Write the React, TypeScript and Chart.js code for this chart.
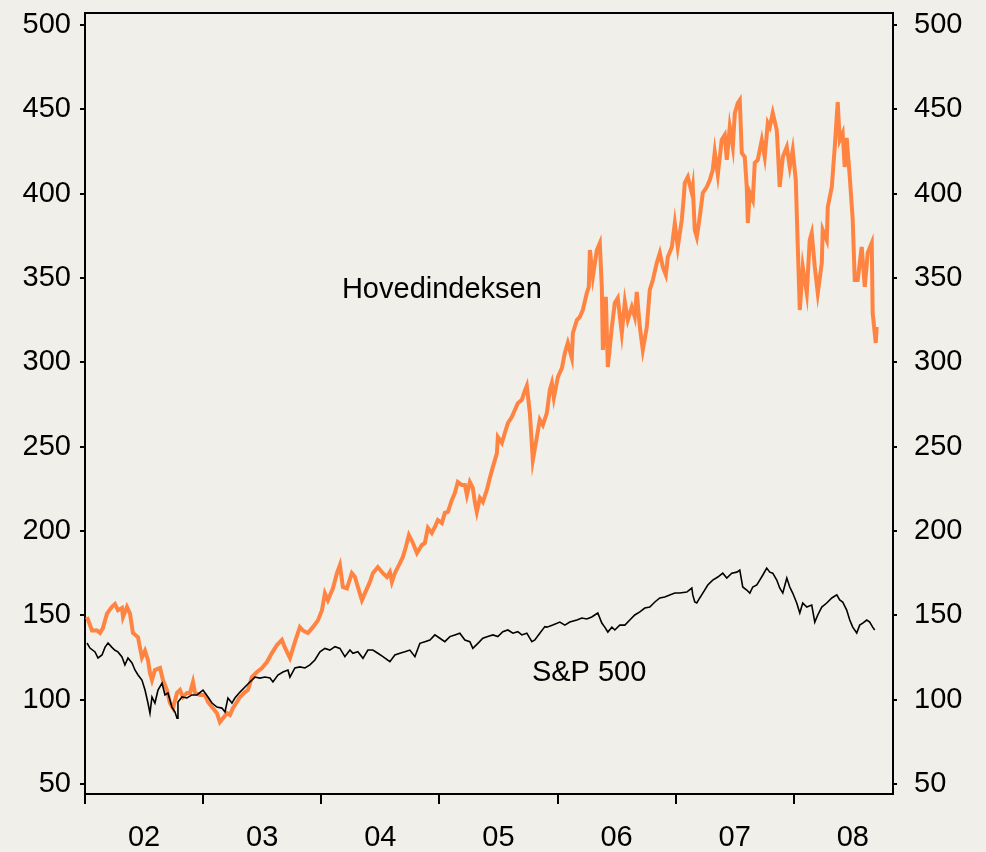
import React, { useEffect, useRef } from "react";
import { Chart, registerables } from "chart.js";

Chart.register(...registerables);

// Hovedindeksen (Oslo Børs main index), decimal years and index values
const hovedYears = [
  2002.017, 2002.059, 2002.102, 2002.127, 2002.152, 2002.186, 2002.228, 2002.254, 2002.279, 2002.313,
  2002.322, 2002.355, 2002.381, 2002.406, 2002.449, 2002.465, 2002.482, 2002.508, 2002.533, 2002.55,
  2002.567, 2002.592, 2002.635, 2002.66, 2002.694, 2002.719, 2002.745, 2002.779, 2002.804, 2002.829,
  2002.863, 2002.889, 2002.914, 2002.931, 2002.973, 2003.015, 2003.041, 2003.075, 2003.117, 2003.142,
  2003.168, 2003.202, 2003.227, 2003.252, 2003.286, 2003.312, 2003.354, 2003.379, 2003.413, 2003.456,
  2003.498, 2003.54, 2003.582, 2003.625, 2003.667, 2003.692, 2003.735, 2003.777, 2003.819, 2003.845,
  2003.887, 2003.929, 2003.972, 2004.006, 2004.031, 2004.056, 2004.099, 2004.133, 2004.158, 2004.183,
  2004.217, 2004.259, 2004.285, 2004.31, 2004.344, 2004.369, 2004.412, 2004.437, 2004.479, 2004.522,
  2004.556, 2004.581, 2004.598, 2004.623, 2004.666, 2004.691, 2004.716, 2004.742, 2004.776, 2004.81,
  2004.852, 2004.877, 2004.903, 2004.936, 2004.962, 2004.987, 2005.021, 2005.046, 2005.072, 2005.106,
  2005.131, 2005.156, 2005.19, 2005.216, 2005.233, 2005.258, 2005.283, 2005.3, 2005.317, 2005.343,
  2005.368, 2005.402, 2005.427, 2005.453, 2005.487, 2005.495, 2005.529, 2005.554, 2005.58, 2005.613,
  2005.639, 2005.664, 2005.698, 2005.723, 2005.74, 2005.766, 2005.791, 2005.825, 2005.85, 2005.876,
  2005.91, 2005.935, 2005.952, 2005.969, 2006.003, 2006.037, 2006.062, 2006.087, 2006.121, 2006.13,
  2006.164, 2006.189, 2006.214, 2006.248, 2006.265, 2006.274, 2006.299, 2006.333, 2006.358, 2006.375,
  2006.384, 2006.409, 2006.426, 2006.46, 2006.485, 2006.51, 2006.544, 2006.57, 2006.595, 2006.629,
  2006.654, 2006.671, 2006.697, 2006.722, 2006.756, 2006.781, 2006.807, 2006.84, 2006.866, 2006.891,
  2006.917, 2006.934, 2006.968, 2006.993, 2007.018, 2007.052, 2007.069, 2007.077, 2007.103, 2007.137,
  2007.145, 2007.162, 2007.179, 2007.204, 2007.23, 2007.264, 2007.289, 2007.314, 2007.331, 2007.357,
  2007.39, 2007.416, 2007.433, 2007.458, 2007.484, 2007.501, 2007.526, 2007.543, 2007.56, 2007.585,
  2007.602, 2007.611, 2007.628, 2007.653, 2007.67, 2007.695, 2007.729, 2007.754, 2007.78, 2007.797,
  2007.822, 2007.856, 2007.864, 2007.881, 2007.907, 2007.941, 2007.966, 2007.991, 2008.017, 2008.034,
  2008.051, 2008.076, 2008.11, 2008.135, 2008.152, 2008.178, 2008.203, 2008.237, 2008.245, 2008.279,
  2008.288, 2008.322, 2008.347, 2008.372, 2008.389, 2008.414, 2008.431, 2008.448, 2008.474, 2008.499,
  2008.516, 2008.541, 2008.575, 2008.601, 2008.626, 2008.66, 2008.668, 2008.694, 2008.702,
];
const hovedValues = [
  149, 141, 141, 139.5, 142.5, 151, 155, 156.7, 153, 154.4,
  149, 155, 151, 139.5, 137, 131, 125, 129, 123.5, 115.8,
  111.6, 117.6, 118.8, 111.6, 105.7, 98, 95, 104, 105.7, 101.6,
  104, 104, 110.5, 104, 102.8, 102.8, 98.6, 95.6, 92, 86.7,
  89, 92, 91, 95, 98.6, 101.6, 104.5, 105.7, 113.4, 116.4,
  118.8, 122.3, 127.6, 132.4, 135.4, 131, 124.7, 134.2, 143, 141,
  139.5, 143, 147, 153, 163, 159, 166, 175, 179.8, 166.8,
  166, 175, 172.7, 166.8, 159, 163, 169.8, 175, 178.6, 175,
  172.7, 175.6, 169.8, 175, 181, 184.6, 190.5, 197.6, 192.9, 186.9,
  191.7, 192.9, 201.8, 198.8, 202.4, 206.5, 204.7, 210.7, 211.3, 218.4,
  222.5, 229, 227.3, 227.3, 221.3, 229, 225.5, 217.2, 211.3, 219.6,
  217.2, 224.3, 231.4, 238, 246.2, 255.7, 252.2, 258.1, 264, 267.6,
  271.7, 275.8, 277.7, 283, 286, 270, 242, 255.7, 266, 262.8,
  270, 283.6, 287.7, 279, 291.3, 296.6, 305.5, 311.5, 302.6, 317.4,
  325.1, 326.9, 331, 341.1, 344.7, 366.6, 350.6, 366.6, 370.7, 344.7,
  307.3, 338.9, 297.2, 320.9, 335.2, 338.1, 317.4, 335.8, 325.1, 332.8,
  326.9, 341.7, 320.9, 307.3, 320.9, 342.9, 348.8, 358.9, 364.8, 356.5,
  351.8, 362.5, 368.4, 382.6, 368.4, 384.4, 398, 406.3, 409.9, 400.4,
  404, 378.5, 374.3, 386.2, 400.4, 404, 408.1, 414, 424.7, 411.2,
  431.8, 434.8, 420, 439.5, 427.7, 447.8, 453.7, 455.5, 424.1, 421.7,
  404, 382.6, 400.4, 396.2, 418.2, 420, 431.8, 421.7, 441.9, 439.5,
  447.8, 437.7, 427.7, 404, 421.7, 427.7, 415.8, 425.9, 408.1, 368.4,
  331, 356.5, 341.1, 372.5, 376.7, 356.5, 341.1, 358.9, 378.5, 372.5,
  392.1, 404, 427.7, 454.3, 431.8, 436, 415.8, 433, 409.9, 384.4,
  348.8, 348.8, 368.4, 344.7, 364.8, 370.7, 329.2, 311.5, 321,
];

// S&P 500, rebased
const spYears = [
  2002.017, 2002.042, 2002.085, 2002.11, 2002.144, 2002.169, 2002.195, 2002.228, 2002.254, 2002.279,
  2002.313, 2002.338, 2002.364, 2002.398, 2002.423, 2002.449, 2002.482, 2002.508, 2002.533, 2002.55,
  2002.567, 2002.592, 2002.618, 2002.652, 2002.677, 2002.702, 2002.736, 2002.762, 2002.779, 2002.787,
  2002.821, 2002.863, 2002.905, 2002.948, 2002.999, 2003.041, 2003.075, 2003.117, 2003.159, 2003.185,
  2003.21, 2003.244, 2003.269, 2003.312, 2003.354, 2003.396, 2003.439, 2003.481, 2003.523, 2003.566,
  2003.591, 2003.633, 2003.676, 2003.718, 2003.735, 2003.777, 2003.819, 2003.862, 2003.904, 2003.946,
  2003.989, 2004.031, 2004.073, 2004.116, 2004.158, 2004.2, 2004.243, 2004.268, 2004.31, 2004.353,
  2004.395, 2004.437, 2004.479, 2004.522, 2004.581, 2004.623, 2004.666, 2004.708, 2004.75, 2004.793,
  2004.835, 2004.877, 2004.92, 2004.962, 2005.004, 2005.046, 2005.089, 2005.131, 2005.173, 2005.216,
  2005.258, 2005.283, 2005.326, 2005.368, 2005.41, 2005.453, 2005.495, 2005.537, 2005.58, 2005.622,
  2005.664, 2005.698, 2005.74, 2005.783, 2005.808, 2005.85, 2005.893, 2005.91, 2005.96, 2006.02,
  2006.062, 2006.104, 2006.164, 2006.206, 2006.248, 2006.29, 2006.341, 2006.375, 2006.4, 2006.426,
  2006.46, 2006.485, 2006.527, 2006.57, 2006.612, 2006.654, 2006.697, 2006.739, 2006.781, 2006.824,
  2006.866, 2006.908, 2006.95, 2006.993, 2007.035, 2007.094, 2007.137, 2007.145, 2007.162, 2007.179,
  2007.204, 2007.23, 2007.272, 2007.314, 2007.357, 2007.399, 2007.433, 2007.475, 2007.518, 2007.543,
  2007.568, 2007.602, 2007.628, 2007.653, 2007.687, 2007.712, 2007.738, 2007.771, 2007.797, 2007.822,
  2007.856, 2007.881, 2007.907, 2007.941, 2007.966, 2007.991, 2008.025, 2008.051, 2008.076, 2008.11,
  2008.152, 2008.178, 2008.203, 2008.237, 2008.279, 2008.322, 2008.364, 2008.389, 2008.414, 2008.448,
  2008.474, 2008.499, 2008.533, 2008.558, 2008.584, 2008.618, 2008.643, 2008.668, 2008.685,
];
const spValues = [
  133.6, 130.6, 128.3, 124.7, 126.5, 131, 133.6, 131, 129.3, 128.3,
  125.3, 120.6, 124.7, 121.8, 117.6, 114.6, 111.6, 105.7, 98, 92,
  101.6, 98, 105.7, 109.8, 102.8, 104, 95.6, 92.7, 89, 98.6,
  101.6, 101, 102.8, 102.8, 105.7, 101.6, 98, 95.6, 95, 92.7,
  101, 98, 101, 104.5, 107.5, 110.5, 113.4, 112.8, 113.4, 112.8,
  110.5, 114.6, 116.4, 117.6, 113.4, 118.8, 119.4, 118.8, 120.6, 123.5,
  128.3, 130.4, 129.4, 131.4, 130.4, 125.5, 129.4, 127.5, 128.4, 124.5,
  129.4, 129.4, 127.5, 125.5, 122.5, 126.5, 127.5, 128.4, 129.4, 125.5,
  133.4, 134.4, 135.4, 138.4, 136.4, 134.4, 137.4, 138.4, 139.4, 135.4,
  134.4, 130.4, 133.4, 136.4, 137.4, 138.4, 137.4, 140.3, 141.3, 139.4,
  140.3, 138.4, 139.4, 134.4, 135.4, 139.4, 143.3, 143, 144.2, 146,
  144.2, 146, 147.2, 148.4, 147.8, 149, 151.4, 145.4, 143, 140.1,
  143, 141.3, 144.2, 144.2, 147.2, 150.2, 152, 154.3, 154.9, 157.9,
  160.3, 160.9, 162.1, 163.2, 163.2, 163.8, 166.2, 162.1, 157.9, 157.3,
  160.3, 163.2, 168, 170.9, 172.7, 175, 172.1, 175, 175.6, 176.8,
  166.8, 165, 163.2, 166.8, 168, 170.9, 173.9, 178, 175.6, 175,
  170.9, 166.2, 163.2, 172.1, 166.8, 163.2, 157.3, 151.4, 157.3, 154.9,
  156.1, 146, 150.2, 154.9, 157.3, 160.3, 162.1, 159.1, 157.9, 153.1,
  147.2, 143, 139.5, 144.2, 145.4, 147.2, 146, 143, 141.3,
];

const yTickValues = [50, 100, 150, 200, 250, 300, 350, 400, 450, 500];
const yearTicks = [2002, 2003, 2004, 2005, 2006, 2007, 2008];
const yearLabels = ["02", "03", "04", "05", "06", "07", "08"];

const seriesLabels = [
  { text: "Hovedindeksen", x: 2004.175, y: 338.1 },
  { text: "S&P 500", x: 2005.783, y: 111.1 },
];

const BG = "#F0EFE9";
const ORANGE = "#FF8442";
const FONT = "'Liberation Sans', Arial, Helvetica, sans-serif";

export default function App() {
  const ref = useRef<HTMLCanvasElement | null>(null);

  useEffect(() => {
    document.body.style.margin = "0";
    document.body.style.background = BG;
    const canvas = ref.current;
    if (!canvas) return;

    const hovedData = hovedYears.map((x, i) => ({ x, y: hovedValues[i] }));
    const spData = spYears.map((x, i) => ({ x, y: spValues[i] }));

    const xTicks: number[] = [];
    yearTicks.forEach((y) => {
      xTicks.push(y);
      xTicks.push(y + 0.5);
    });

    const bgPlugin = {
      id: "bg",
      beforeDraw(chart: any) {
        const c = chart.ctx;
        c.save();
        c.fillStyle = BG;
        c.fillRect(0, 0, chart.width, chart.height);
        c.restore();
      },
      afterDraw(chart: any) {
        const c = chart.ctx;
        const a = chart.chartArea;
        c.save();
        c.strokeStyle = "#000";
        c.lineWidth = 2;
        c.beginPath();
        c.moveTo(a.left - 1, a.top);
        c.lineTo(a.right + 1, a.top);
        c.stroke();
        c.fillStyle = "#000";
        c.font = `29px ${FONT}`;
        c.textBaseline = "alphabetic";
        c.textAlign = "left";
        const xs = chart.scales.x;
        const ys = chart.scales.y;
        seriesLabels.forEach((l) => {
          c.fillText(l.text, xs.getPixelForValue(l.x), ys.getPixelForValue(l.y));
        });
        c.restore();
      },
    };

    const yCommon = {
      min: 44.07,
      max: 507.1,
      afterBuildTicks: (axis: any) => {
        axis.ticks = yTickValues.map((v) => ({ value: v }));
      },
      border: { display: true, color: "#000", width: 2 },
    };

    const chart = new Chart(canvas, {
      type: "line",
      data: {
        datasets: [
          {
            label: "S&P 500",
            data: spData,
            borderColor: "#000",
            borderWidth: 1.6,
            pointRadius: 0,
            tension: 0,
            yAxisID: "y",
          },
          {
            label: "Hovedindeksen",
            data: hovedData,
            borderColor: ORANGE,
            borderWidth: 4,
            pointRadius: 0,
            tension: 0,
            yAxisID: "y",
          },
        ],
      },
      plugins: [bgPlugin],
      options: {
        responsive: false,
        animation: false,
        devicePixelRatio: 1,
        layout: { padding: { top: 13, left: 0, right: 0, bottom: 0 } },
        plugins: {
          legend: { display: false },
          tooltip: { enabled: false },
          title: { display: false },
        },
        scales: {
          x: {
            type: "linear",
            position: "bottom",
            min: 2002,
            max: 2008.84,
            afterBuildTicks: (axis: any) => {
              axis.ticks = xTicks.map((v) => ({ value: v }));
            },
            afterFit: (scale: any) => {
              scale.height = 58;
              scale.paddingLeft = 0;
              scale.paddingRight = 0;
            },
            ticks: {
              autoSkip: false,
              maxRotation: 0,
              minRotation: 0,
              padding: 17,
              color: "#000",
              font: { size: 29, family: FONT },
              callback: (v: any) => {
                const idx = yearTicks.indexOf(Number(v) - 0.5);
                return idx >= 0 ? yearLabels[idx] : "";
              },
            },
            grid: {
              drawOnChartArea: false,
              drawTicks: true,
              tickLength: 10,
              lineWidth: 2,
              tickColor: (ctx: any) =>
                Number.isInteger(ctx.tick && ctx.tick.value) ? "#000" : "rgba(0,0,0,0)",
            },
            border: { display: true, color: "#000", width: 2 },
          },
          y: {
            ...yCommon,
            position: "left",
            afterFit: (scale: any) => {
              scale.width = 85;
              scale.paddingTop = 0;
              scale.paddingBottom = 0;
            },
            ticks: {
              padding: 9,
              color: "#000",
              font: { size: 29, family: FONT },
            },
            grid: {
              drawOnChartArea: false,
              drawTicks: true,
              tickLength: 5,
              lineWidth: 2,
              tickColor: "#000",
            },
          },
          y2: {
            ...yCommon,
            type: "linear",
            position: "right",
            afterFit: (scale: any) => {
              scale.width = 93;
              scale.paddingTop = 0;
              scale.paddingBottom = 0;
            },
            ticks: {
              padding: 17,
              color: "#000",
              font: { size: 29, family: FONT },
            },
            grid: {
              drawOnChartArea: false,
              drawTicks: true,
              tickLength: 4,
              lineWidth: 2,
              tickColor: "#000",
            },
          },
        },
      },
    } as any);

    return () => {
      chart.destroy();
    };
  }, []);

  return (
    <div style={{ width: 986, height: 852, background: BG }}>
      <canvas ref={ref} width={986} height={852} style={{ display: "block", width: 986, height: 852 }} />
    </div>
  );
}
